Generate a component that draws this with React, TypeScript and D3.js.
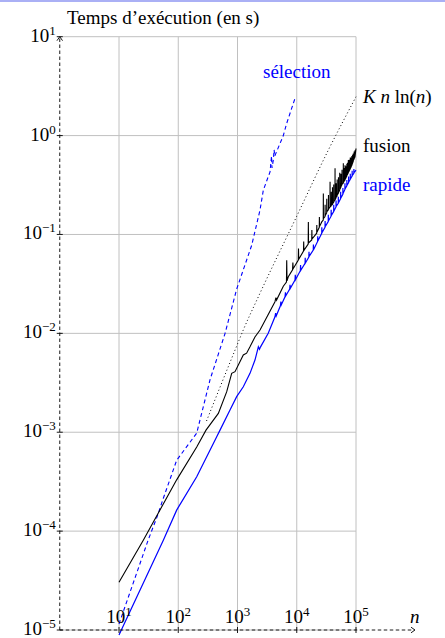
import React, { useEffect, useRef } from 'react';
import * as d3 from 'd3';

// tick values (decades)
const xTicks = [10, 100, 1000, 10000, 100000];
const yTicks = [1e-5, 1e-4, 1e-3, 1e-2, 1e-1, 1, 10];

// [n, time in s]
const selection: [number, number][] = [
  [10, 1.15e-5], [31, 8.1e-5], [44, 1.4e-4], [56, 2.15e-4], [94, 5.2e-4], [205, 9.8e-4],
  [344, 3.4e-3], [617, 1.0e-2], [968, 2.8e-2], [1738, 7.8e-2], [2400, 0.177], [2730, 0.281],
  [3540, 0.43], [3750, 0.62], [3820, 0.47], [4020, 0.565], [4150, 0.72], [4250, 0.62],
  [5930, 1.0], [6770, 1.33], [9340, 2.38],
];

const fusion: [number, number][] = [
  [10, 3.04e-5], [25.7, 8.1e-5], [94, 3.3e-4], [205, 7.1e-4], [294, 1.05e-3], [475, 1.55e-3],
  [658, 2.57e-3], [798, 3.94e-3], [908, 4.1e-3], [1253, 6.04e-3], [1425, 6.3e-3], [1625, 7.3e-3],
  [1970, 9.2e-3], [2400, 1.08e-2], [3200, 1.5e-2], [4290, 2.09e-2], [4450, 2.3e-2], [4560, 2.17e-2],
  [5930, 3.0e-2], [6700, 3.3e-2], [6770, 5.5e-2], [6850, 3.4e-2], [7200, 3.73e-2],
  [8500, 4.4e-2], [8600, 5.2e-2], [8700, 4.5e-2],
  [10620, 5.5e-2], [10700, 7.2e-2], [10800, 5.6e-2],
  [13000, 6.8e-2], [13100, 8.5e-2], [13200, 6.9e-2],
  [15600, 8.0e-2], [15700, 0.134], [15800, 8.2e-2],
  [17900, 8.8e-2], [18000, 0.111], [18100, 9.0e-2],
  [21700, 0.103], [21800, 0.125], [21900, 0.105],
  [24000, 0.118], [24100, 0.15], [24200, 0.12],
  [26400, 0.134], [28000, 0.14], [28100, 0.26], [28200, 0.145],
  [30000, 0.152], [30100, 0.2], [30200, 0.155],
  [32000, 0.165], [32100, 0.23], [32200, 0.17],
  [34200, 0.178], [34300, 0.25], [34400, 0.18],
  [36400, 0.19], [36500, 0.341], [36600, 0.19],
  [38200, 0.195], [38300, 0.27], [38400, 0.198],
  [40000, 0.2], [40100, 0.3], [40200, 0.205],
  [42000, 0.212], [42100, 0.32], [42200, 0.215],
  [44200, 0.223], [44300, 0.466], [44400, 0.225],
  [46000, 0.235], [46100, 0.33], [46200, 0.238],
  [48000, 0.245], [48100, 0.36], [48200, 0.25],
  [50500, 0.262], [50600, 0.38], [50700, 0.266],
  [53000, 0.28], [53100, 0.42], [53200, 0.285],
  [55500, 0.3], [55600, 0.41], [55700, 0.303],
  [58000, 0.32], [58100, 0.45], [58200, 0.325],
  [61000, 0.33], [61100, 0.524], [61200, 0.335],
  [63000, 0.345], [63100, 0.47], [63200, 0.348],
  [65200, 0.355], [65300, 0.5], [65400, 0.36],
  [67500, 0.372], [67600, 0.49], [67700, 0.375],
  [70000, 0.39], [70100, 0.52], [70200, 0.395],
  [72000, 0.405], [72100, 0.53], [72200, 0.408],
  [74100, 0.42], [74200, 0.565], [74300, 0.425],
  [77000, 0.44], [77100, 0.57], [77200, 0.443],
  [80000, 0.46], [80100, 0.6], [80200, 0.465],
  [82500, 0.48], [82600, 0.6], [82700, 0.483],
  [85000, 0.5], [85100, 0.62], [85200, 0.505],
  [87500, 0.525], [87600, 0.64], [87700, 0.528],
  [90000, 0.55], [90100, 0.66], [90200, 0.56],
  [93000, 0.58], [93100, 0.69], [93200, 0.585],
  [96200, 0.61], [96300, 0.71], [96400, 0.615], [100000, 0.74],
];

const rapide: [number, number][] = [
  [10, 8.9e-6], [56, 8.1e-5], [94, 1.63e-4], [205, 3.55e-4], [446, 9.0e-4], [507, 1.05e-3],
  [747, 1.68e-3], [968, 2.29e-3], [1253, 2.88e-3], [1625, 3.94e-3], [1972, 5.37e-3],
  [2250, 7.3e-3], [2350, 6.9e-3], [2450, 7.3e-3], [3300, 1.0e-2],
  [4290, 1.47e-2], [4400, 1.6e-2], [4500, 1.5e-2],
  [5300, 1.9e-2], [5400, 2.1e-2], [5500, 1.95e-2],
  [6340, 2.34e-2], [6450, 2.6e-2], [6550, 2.4e-2],
  [7600, 2.8e-2], [7700, 3.1e-2], [7800, 2.85e-2],
  [9340, 3.46e-2], [9450, 3.9e-2], [9550, 3.5e-2],
  [11500, 4.3e-2], [11600, 4.9e-2], [11700, 4.35e-2],
  [13800, 5.1e-2], [13900, 5.8e-2], [14000, 5.15e-2],
  [16000, 5.9e-2], [16100, 6.7e-2], [16200, 6.0e-2],
  [19000, 6.95e-2], [19100, 7.9e-2], [19200, 7.0e-2],
  [22500, 8.5e-2], [22600, 9.6e-2], [22700, 8.6e-2],
  [26400, 0.1026], [26500, 0.118], [26600, 0.104],
  [30000, 0.118], [30100, 0.137], [30200, 0.12],
  [34000, 0.135], [34100, 0.158], [34200, 0.137],
  [38000, 0.153], [38100, 0.178], [38200, 0.155],
  [42000, 0.17], [42100, 0.2], [42200, 0.172],
  [46000, 0.19], [46100, 0.22], [46200, 0.192],
  [50200, 0.206], [50300, 0.24], [50400, 0.208],
  [55000, 0.23], [55100, 0.27], [55200, 0.233],
  [60000, 0.255], [60100, 0.295], [60200, 0.258],
  [65000, 0.285], [65100, 0.33], [65200, 0.288],
  [70000, 0.31], [70100, 0.355], [70200, 0.313],
  [75000, 0.335], [75100, 0.385], [75200, 0.338],
  [80000, 0.36], [80100, 0.41], [80200, 0.363],
  [86000, 0.39], [86100, 0.44], [86200, 0.393],
  [92000, 0.415], [92100, 0.46], [92200, 0.42],
  [100000, 0.448],
];

const knlnn: [number, number][] = [
  [300, 1.3e-3], [1000, 7.8e-3], [1250, 1.08e-2], [2245, 2.34e-2], [10000, 0.153], [34100, 0.713], [100000, 2.47],
];

const BLUE = '#0000ff';
const FONT = '"Liberation Serif", "Times New Roman", serif';
const FS = 19;
const SUP = 13;

const App = () => {
  const svgRef = useRef<SVGSVGElement>(null);

  useEffect(() => {
    const W = 445;
    const svg = d3.select(svgRef.current);
    svg.selectAll('*').remove();

    const x = d3.scaleLog().domain([1, 1e5]).range([59.75, 356]);
    const y = d3.scaleLog().domain([1e-5, 10]).range([630, 36.7]);
    const x0 = x(1);
    const y0 = y(1e-5);

    // thin lavender band at the very top
    svg.append('rect').attr('x', 0).attr('y', 0).attr('width', W).attr('height', 2).attr('fill', '#aab0f5');

    // grid
    const grid = svg.append('g').attr('stroke', '#c0c0c0').attr('stroke-width', 1);
    xTicks.forEach((v) => {
      grid.append('line').attr('x1', x(v)).attr('x2', x(v)).attr('y1', y(10)).attr('y2', y0);
    });
    yTicks.forEach((v) => {
      grid.append('line').attr('x1', x0).attr('x2', x(1e5)).attr('y1', y(v)).attr('y2', y(v));
    });

    const line = d3
      .line<[number, number]>()
      .x((d) => x(d[0]))
      .y((d) => y(d[1]));

    svg.append('path').attr('d', line.curve(d3.curveMonotoneX)(knlnn) as string)
      .attr('fill', 'none').attr('stroke', '#000').attr('stroke-width', 1).attr('stroke-dasharray', '1,2.6');
    line.curve(d3.curveLinear);

    svg.append('path').attr('d', line(selection) as string).attr('fill', 'none')
      .attr('stroke', BLUE).attr('stroke-width', 1.1).attr('stroke-dasharray', '4,3');
    svg.append('path').attr('d', line(rapide) as string).attr('fill', 'none')
      .attr('stroke', BLUE).attr('stroke-width', 1.2);
    svg.append('path').attr('d', line(fusion) as string).attr('fill', 'none')
      .attr('stroke', '#000').attr('stroke-width', 1.1);

    // axes (dashed, with arrows)
    const ax = svg.append('g').attr('stroke', '#000').attr('stroke-width', 0.9).attr('fill', 'none');
    ax.append('line').attr('x1', x0).attr('x2', 414).attr('y1', y0).attr('y2', y0).attr('stroke-dasharray', '3.5,2.5');
    ax.append('line').attr('x1', x0).attr('x2', x0).attr('y1', y0).attr('y2', y(10) + 1).attr('stroke-dasharray', '3.5,2.5');
    ax.append('path').attr('d', `M${411},${y0 - 2.8} L${415},${y0} L${411},${y0 + 2.8}`);
    ax.append('path').attr('d', `M${x0 - 2.8},${y(10) + 4} L${x0},${y(10)} L${x0 + 2.8},${y(10) + 4}`);

    xTicks.forEach((v) => {
      ax.append('line').attr('x1', x(v)).attr('x2', x(v)).attr('y1', y0 - 3).attr('y2', y0 + 3);
    });
    yTicks.forEach((v) => {
      ax.append('line').attr('x1', x0 - 3).attr('x2', x0 + 3).attr('y1', y(v)).attr('y2', y(v));
    });

    const sup = (v: number) => {
      const e = Math.round(Math.log10(v));
      return e < 0 ? `\u2212${-e}` : `${e}`;
    };

    const txt = svg.append('g').attr('font-family', FONT).attr('fill', '#000');

    yTicks.forEach((v) => {
      const t = txt.append('text').attr('x', x0 - 4).attr('y', y(v) + 5).attr('text-anchor', 'end').attr('font-size', FS);
      t.append('tspan').text('10');
      t.append('tspan').attr('dy', -7).attr('font-size', SUP).text(sup(v));
    });
    xTicks.forEach((v) => {
      const t = txt.append('text').attr('x', x(v)).attr('y', y0 - 7).attr('text-anchor', 'middle').attr('font-size', FS);
      t.append('tspan').text('10');
      t.append('tspan').attr('dy', -7).attr('font-size', SUP).text(sup(v));
    });

    txt.append('text').attr('x', 67).attr('y', 24).attr('font-size', FS).text('Temps d\u2019exécution (en s)');
    txt.append('text').attr('x', 410).attr('y', y0 - 7).attr('font-size', FS).attr('font-style', 'italic').text('n');

    // curve labels
    txt.append('text').attr('x', x(1e4)).attr('y', 78).attr('text-anchor', 'middle').attr('font-size', FS)
      .attr('fill', BLUE).text('sélection');
    const k = txt.append('text').attr('x', x(1e5) + 7).attr('y', 103).attr('font-size', FS);
    k.append('tspan').attr('font-style', 'italic').text('K');
    k.append('tspan').text(' ');
    k.append('tspan').attr('font-style', 'italic').text('n');
    k.append('tspan').text(' ln(');
    k.append('tspan').attr('font-style', 'italic').text('n');
    k.append('tspan').text(')');
    txt.append('text').attr('x', x(1e5) + 7).attr('y', 152).attr('font-size', FS).text('fusion');
    txt.append('text').attr('x', x(1e5) + 7).attr('y', 191).attr('font-size', FS).attr('fill', BLUE).text('rapide');
  }, []);

  return (
    <svg
      ref={svgRef}
      width={445}
      height={638}
      style={{ position: 'absolute', left: 0, top: 0, background: '#fff' }}
    />
  );
};

export default App;
